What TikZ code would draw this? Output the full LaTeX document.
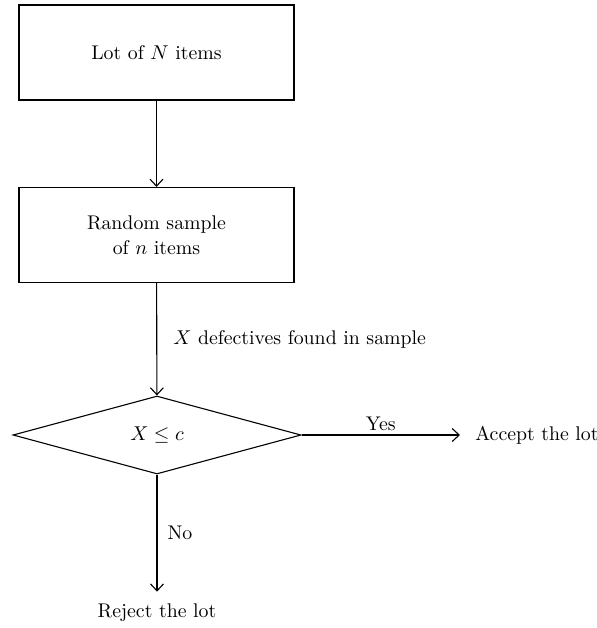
\documentclass[tikz,border=0pt]{standalone}
\usetikzlibrary{arrows.meta}
\usetikzlibrary{shapes.geometric}
\tikzset{
  stepbox/.style={draw, rectangle, line width=.55pt, minimum width=137.5pt, minimum height=47.5pt, align=center, inner sep=0pt},
  testbox/.style={draw, diamond, aspect=3.7, line width=.55pt, minimum width=144pt, minimum height=39pt, inner sep=0pt},
  flow/.style={line width=.55pt, -{Straight Barb[length=3.5pt,width=6.5pt]}},
  lbl/.style={inner sep=0pt}
}

\begin{document}
\begin{tikzpicture}[x=.5pt, y=-.5pt, font=\fontsize{9.9}{12.5}\selectfont]
\useasboundingbox (0,0) rectangle (597,628);
\node[stepbox] (lot) at (156.5,52.5) {Lot of $N$ items};
\node[stepbox] (sample) at (156.5,235) {Random sample\\ of $n$ items};
\node[testbox] (test) at (157,435) {$X \leq c$};
\node[anchor=west, inner xsep=7.5pt] (accept) at (460,435) {Accept the lot};
\node[inner xsep=0pt, inner ysep=6pt] (reject) at (157,613) {Reject the lot};
\draw[flow] (lot) -- (sample);
\draw[flow] (sample) -- (test) node[midway, right=8pt, lbl] {$X$ defectives found in sample};
\draw[flow] (test) -- (accept) node[midway, above=2pt, lbl] {Yes};
\draw[flow] (test) -- (reject) node[midway, right=5pt, lbl] {No};
\end{tikzpicture}
\end{document}
